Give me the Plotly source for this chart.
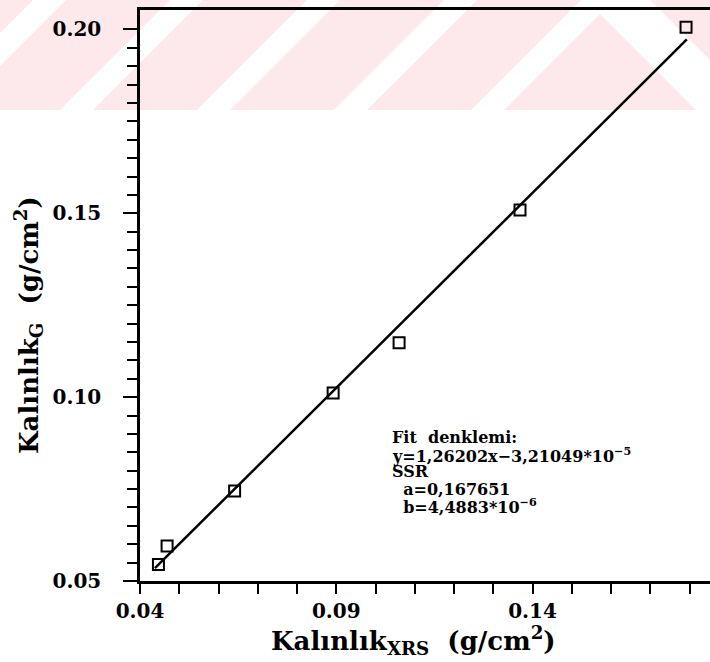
import numpy as np
import plotly.graph_objects as go

# ---- data ----
x_xrs = [0.0447, 0.0469, 0.0641, 0.0892, 0.1060, 0.1368, 0.1791]
y_g = [0.0545, 0.0595, 0.0745, 0.1011, 0.1148, 0.1509, 0.2006]
fit_x = [0.0438, 0.1793]
fit_y = [0.0535, 0.1973]

x_ticks = [0.04, 0.09, 0.14]
x_ticktext = ["0.04", "0.09", "0.14"]
y_ticks = [0.05, 0.10, 0.15, 0.20]
y_ticktext = ["0.05", "0.10", "0.15", "0.20"]

fit_lines = [
    "Fit  denklemi:",
    "y=1,26202x\u22123,21049*10<sup>\u22125</sup>",
    "SSR",
    "  a=0,167651",
    "  b=4,4883*10<sup>\u22126</sup>",
]

W, H = 710, 662
L, R, T, B = 140, 0, 10, 81
PW, PH = W - L - R, H - T - B


def px(xp, yp):
    return (xp - L) / PW, (H - B - yp) / PH


def poly(points):
    s = ""
    for i, (a, b) in enumerate(points):
        u, v = px(a, b)
        s += ("M" if i == 0 else "L") + f"{u:.4f},{v:.4f} "
    return s + "Z"


FONT = "DejaVu Serif"

fig = go.Figure()
fig.add_trace(go.Scatter(x=fit_x, y=fit_y, mode="lines",
                         line=dict(color="black", width=2.5), showlegend=False,
                         hoverinfo="skip"))
fig.add_trace(go.Scatter(x=x_xrs, y=y_g, mode="markers",
                         marker=dict(symbol="square-open", size=11, color="black",
                                     line=dict(width=2, color="black")),
                         showlegend=False))

# watermark stripes
pink = "#fde9ec"
shapes = []
for b0 in [-181, -44, 93, 230, 367]:
    shapes.append(dict(type="path", path=poly([(b0, 110), (b0 + 104, 110), (b0 + 214, 0), (b0 + 110, 0)]),
                       xref="paper", yref="paper", fillcolor=pink, line=dict(width=0), layer="below"))
shapes.append(dict(type="path", path=poly([(504, 110), (600, 14), (696, 110)]),
                   xref="paper", yref="paper", fillcolor=pink, line=dict(width=0), layer="below"))
shapes.append(dict(type="path", path=poly([(650, 0), (710, 0), (710, 60)]),
                   xref="paper", yref="paper", fillcolor=pink, line=dict(width=0), layer="below"))

annotations = []
ys = [437, 455, 472, 489, 506]
for t, yy in zip(fit_lines, ys):
    u, v = px(390, yy)
    annotations.append(dict(text=t, x=u, y=v, xref="paper", yref="paper",
                            xanchor="left", yanchor="middle", showarrow=False,
                            font=dict(family=FONT, size=16, color="black", weight="bold")))
u, v = px(413, 640)
annotations.append(dict(text="Kalınlık<sub>XRS</sub>  (g/cm<sup>2</sup>)", x=u, y=v,
                        xref="paper", yref="paper", showarrow=False,
                        xanchor="center", yanchor="middle",
                        font=dict(family=FONT, size=26, color="black", weight="bold")))
u, v = px(28, 325)
annotations.append(dict(text="Kalınlık<sub>G</sub>  (g/cm<sup>2</sup>)", x=u, y=v,
                        xref="paper", yref="paper", showarrow=False, textangle=-90,
                        xanchor="center", yanchor="middle",
                        font=dict(family=FONT, size=26, color="black", weight="bold")))

x_minor = [round(0.04 + 0.01 * i, 3) for i in range(15)]
y_minor = [round(0.05 + 0.005 * i, 3) for i in range(31)]

fig.update_layout(
    width=W, height=H,
    margin=dict(l=L, r=R, t=T, b=B),
    paper_bgcolor="white", plot_bgcolor="rgba(0,0,0,0)",
    shapes=shapes, annotations=annotations,
    font=dict(family=FONT, size=20, color="black", weight="bold"),
    xaxis=dict(range=[0.04, 0.1852], tickvals=x_ticks, ticktext=x_ticktext,
               ticks="outside", ticklen=10, tickwidth=2, tickcolor="black",
               minor=dict(tickvals=x_minor, ticks="outside", ticklen=10, tickwidth=2, tickcolor="black"),
               showline=True, linewidth=2.5, linecolor="black", mirror=True,
               showgrid=False, zeroline=False,
               tickfont=dict(family=FONT, size=20, color="black", weight="bold")),
    yaxis=dict(range=[0.05, 0.2053], tickvals=y_ticks, ticktext=y_ticktext,
               ticks="outside", ticklen=14, tickwidth=2, tickcolor="black",
               minor=dict(tickvals=y_minor, ticks="outside", ticklen=10, tickwidth=2, tickcolor="black"),
               showline=True, linewidth=2.5, linecolor="black", mirror=False,
               showgrid=False, zeroline=False, ticklabelstandoff=18,
               tickfont=dict(family=FONT, size=20, color="black", weight="bold")),
)

fig.write_html("out.html")
